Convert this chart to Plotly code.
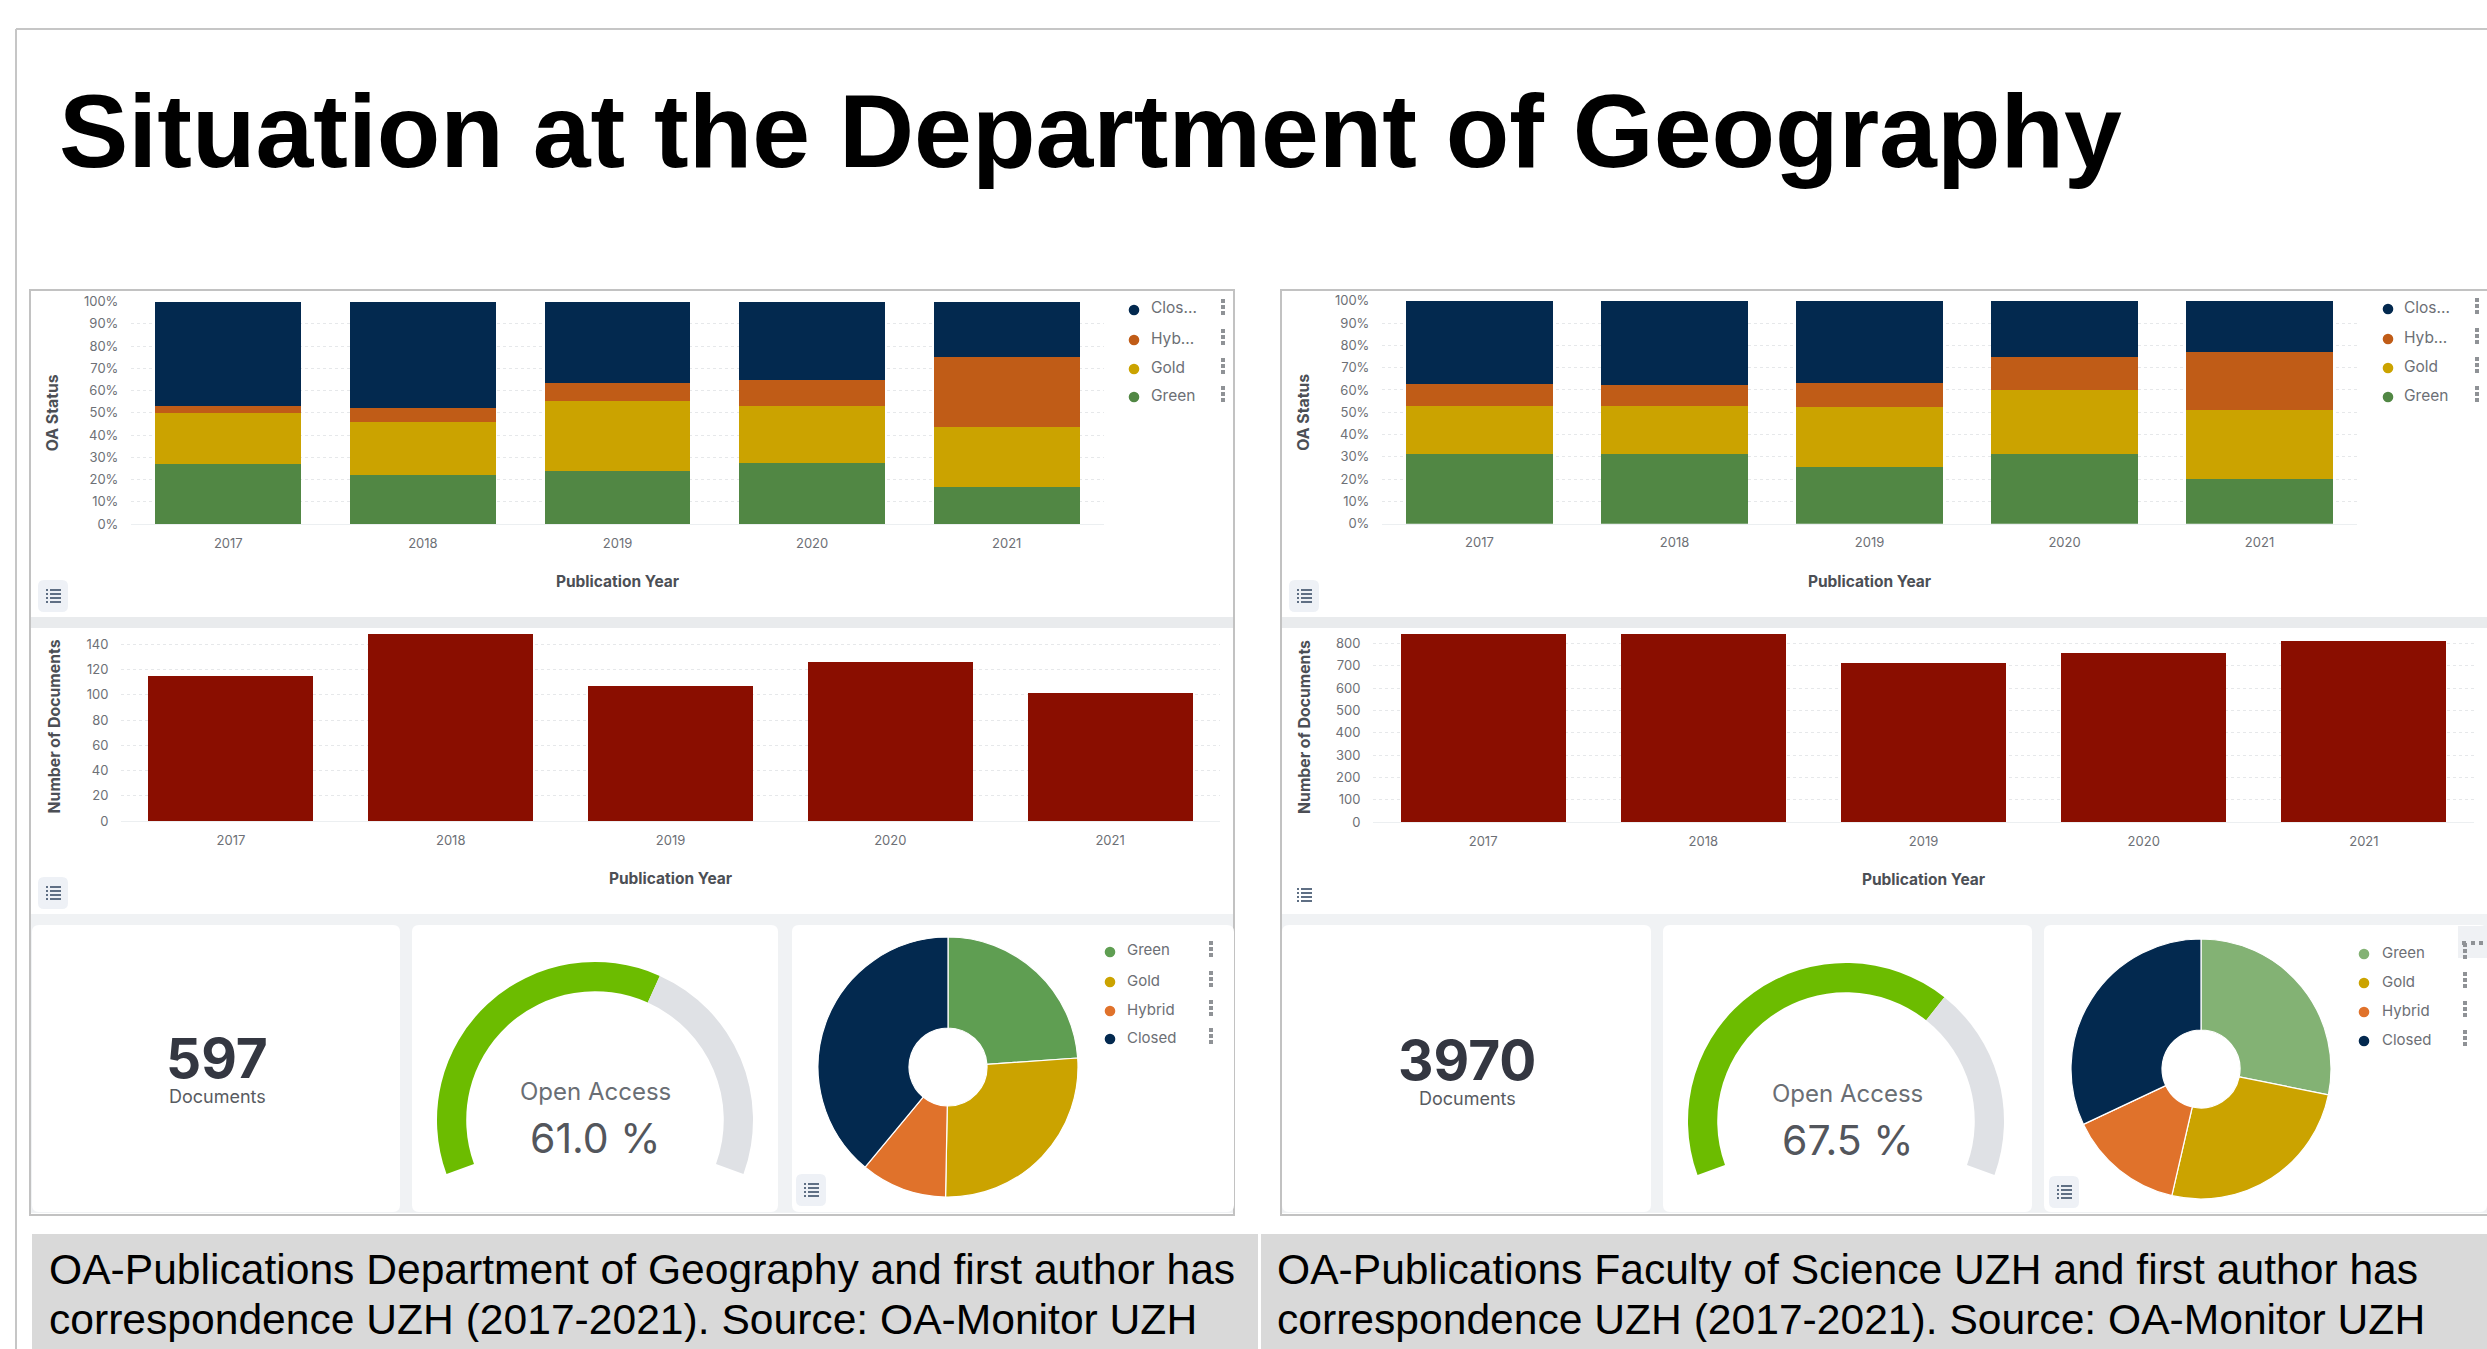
import plotly.graph_objects as go

W, H = 2487, 1349

# ---------- data ----------
years = ["2017", "2018", "2019", "2020", "2021"]
status_names = ["Green", "Gold", "Hybrid", "Closed"]

geo_green = [26.8, 22.1, 24.0, 27.4, 16.6]
geo_gold = [22.9, 23.8, 31.2, 25.7, 26.9]
geo_hybrid = [3.4, 6.1, 8.3, 11.7, 31.5]
geo_closed = [46.9, 48.0, 36.5, 35.2, 25.0]
geo_docs = [115, 148, 107, 126, 101]
geo_pie = [23.9, 26.4, 10.7, 39.0]
geo_total = "597"
geo_oa = 61.0

sci_green = [31.3, 31.5, 25.5, 31.5, 20.0]
sci_gold = [21.3, 21.3, 27.0, 28.5, 30.8]
sci_hybrid = [10.0, 9.3, 10.7, 14.9, 26.2]
sci_closed = [37.4, 37.9, 36.8, 25.1, 23.0]
sci_docs = [841, 844, 714, 760, 811]
sci_pie = [28.2, 25.4, 14.4, 32.0]
sci_total = "3970"
sci_oa = 67.5

title_text = "Situation at the Department of Geography"
caption_geo = ["OA-Publications Department of Geography and first author has",
               "correspondence UZH (2017-2021). Source: OA-Monitor UZH"]
caption_sci = ["OA-Publications Faculty of Science UZH and first author has",
               "correspondence UZH (2017-2021). Source: OA-Monitor UZH"]
legend_short = ["Clos...", "Hyb...", "Gold", "Green"]
legend_long = ["Green", "Gold", "Hybrid", "Closed"]

# ---------- styles ----------
C_GREEN, C_GOLD, C_HYB, C_CLOSED = "#518744", "#cba300", "#c05c17", "#03294f"
C_RED = "#8a0e00"
P_GREEN_GEO, P_GREEN_SCI, P_HYB = "#5f9e52", "#83b274", "#e0722b"
TICK = "#6d7076"
FONT = "Inter"
ARIAL = "Liberation Sans"
GAUGE_SWEEP = 220


def px(x):
    return x / W


def py(y):
    return 1 - y / H


fig = go.Figure()
shapes, annots = [], []


def rect(x0, y0, x1, y1, fill, line=None, lw=0):
    shapes.append(dict(type="rect", xref="paper", yref="paper", layer="below",
                       x0=px(x0), x1=px(x1), y0=py(y0), y1=py(y1), fillcolor=fill,
                       line=dict(color=line or fill, width=lw)))


def rrect(x0, y0, x1, y1, fill, r=7):
    X0, X1, Y0, Y1 = px(x0), px(x1), py(y0), py(y1)
    rx, ry = r / W, r / H
    path = (f"M {X0+rx},{Y0} L {X1-rx},{Y0} Q {X1},{Y0} {X1},{Y0-ry} L {X1},{Y1+ry} "
            f"Q {X1},{Y1} {X1-rx},{Y1} L {X0+rx},{Y1} Q {X0},{Y1} {X0},{Y1+ry} "
            f"L {X0},{Y0-ry} Q {X0},{Y0} {X0+rx},{Y0} Z")
    shapes.append(dict(type="path", xref="paper", yref="paper", layer="below",
                       path=path, fillcolor=fill, line=dict(width=0)))


def text(x, y, s, size, color, family=FONT, bold=False, anchor="center", height=None):
    a = dict(xref="paper", yref="paper", x=px(x), y=py(y), text=f"<b>{s}</b>" if bold else s,
             showarrow=False, xanchor=anchor, yanchor="middle",
             font=dict(family=family, size=size, color=color))
    if height:
        a["height"] = height
    annots.append(a)


def circle(x, y, r, color):
    shapes.append(dict(type="circle", xref="paper", yref="paper", layer="above",
                       x0=px(x - r), x1=px(x + r), y0=py(y + r), y1=py(y - r),
                       fillcolor=color, line=dict(width=0)))


def list_icon(cx, cy, bg=True):
    if bg:
        rrect(cx - 15, cy - 16, cx + 15, cy + 16, "#eef1f6", 6)
    for off in (-6, -2, 2, 6):
        rect(cx - 7, cy + off - 1, cx - 5, cy + off + 1, "#5f6f84")
        rect(cx - 3, cy + off - 1, cx + 8, cy + off + 1, "#5f6f84")


def legend(dot_x, text_x, icon_x, ys, labels, colors, size):
    for y, lab, col in zip(ys, labels, colors):
        circle(dot_x, y, 5.3, col)
        text(text_x, y - 2, lab, size, "#6c6f75", anchor="left")
        for off in (-6, 0, 6):
            rect(icon_x - 2, y - 5 + off, icon_x + 2, y - 1 + off, "#8f9296")


# ---------- background ----------
shapes.append(dict(type="line", xref="paper", yref="paper", layer="below",
                   x0=px(16), x1=px(16), y0=py(29), y1=0, line=dict(color="#c6c6c6", width=2)))
shapes.append(dict(type="line", xref="paper", yref="paper", layer="below",
                   x0=px(16), x1=1, y0=py(29), y1=py(29), line=dict(color="#c6c6c6", width=2)))

for (left, right, cards) in [
    (30, 1234, [(32, 400), (412, 778), (792, 1234)]),
    (1281, 2488, [(1282, 1651), (1663, 2032), (2044, 2487)]),
]:
    rect(left, 290, right, 1215, "#ffffff", "#c2c2c2", 2)
    rect(left + 1, 617, right - 1, 628, "#e9ebed")
    rect(left + 1, 914, right - 1, 1213, "#f0f2f4")
    for a, b in cards:
        rrect(a, 925, b, 1212, "#ffffff")

rect(32, 1234, 1258, 1349, "#d9d9d9")
rect(1261, 1234, 2487, 1349, "#d9d9d9")

for cx, cy, bg in [(53, 596, True), (53, 893, True), (811, 1190, True),
                   (1304, 596, True), (1304, 895, False), (2064, 1192, True)]:
    list_icon(cx, cy, bg)

# settings glyph at the corner of the last legend
rect(2458, 926, 2487, 958, "#eff1f4")
for gx in (2464, 2473, 2481):
    rect(gx - 2, 941, gx + 2, 945, "#8f9296")

# ---------- text ----------
text(56.5, 131, title_text, 104, "#000000", ARIAL, True, "left")
text(47, 1269, caption_geo[0], 42.6, "#000000", ARIAL, anchor="left", height=46)
text(47, 1319, caption_geo[1], 42.6, "#000000", ARIAL, anchor="left", height=46)
text(1275, 1269, caption_sci[0], 42.6, "#000000", ARIAL, anchor="left", height=46)
text(1275, 1319, caption_sci[1], 42.6, "#000000", ARIAL, anchor="left", height=46)

text(217, 1058, geo_total, 55, "#343741", bold=True, height=42)
text(217, 1096, "Documents", 18, "#585b61")
text(1467, 1060, sci_total, 55, "#343741", bold=True, height=42)
text(1467, 1098, "Documents", 18, "#585b61")
text(595.5, 1091, "Open Access", 24, "#6a6e74")
text(595, 1138, f"{geo_oa:.1f} %", 41, "#53565c")
text(1848, 1093, "Open Access", 24, "#6a6e74")
text(1847, 1140, f"{sci_oa:.1f} %", 41, "#53565c")

stack_cols = [C_CLOSED, C_HYB, C_GOLD, C_GREEN]
pie_geo_cols = [P_GREEN_GEO, C_GOLD, P_HYB, C_CLOSED]
pie_sci_cols = [P_GREEN_SCI, C_GOLD, P_HYB, C_CLOSED]
legend(1134, 1149, 1223, [310, 340, 369, 397], legend_short, stack_cols, 15.5)
legend(2388, 2402, 2477, [309, 339, 368, 397], legend_short, stack_cols, 15.5)
legend(1110, 1125, 1211, [952, 982, 1011, 1039], legend_long, pie_geo_cols, 15)
legend(2364, 2380, 2465, [954, 983, 1012, 1041], legend_long, pie_sci_cols, 15)

# ---------- cartesian charts ----------
layout_axes = {}


def axes(idx, x0, x1, y_top, y_bottom, ymax, dtick, suffix, ytitle):
    kx = "xaxis" if idx == 1 else f"xaxis{idx}"
    ky = "yaxis" if idx == 1 else f"yaxis{idx}"
    layout_axes[kx] = dict(
        domain=[px(x0), px(x1)], anchor=f"y{idx}" if idx > 1 else "y", type="category",
        showgrid=False, zeroline=False, showline=True, linecolor="#eceff1", linewidth=1,
        ticks="outside", ticklen=7, tickcolor="rgba(0,0,0,0)",
        tickfont=dict(family=FONT, size=13, color=TICK),
        title=dict(text="<b>Publication Year</b>", standoff=26,
                   font=dict(family=FONT, size=15.5, color="#4c4f55")))
    layout_axes[ky] = dict(
        domain=[py(y_bottom), py(y_top)], anchor=f"x{idx}" if idx > 1 else "x",
        range=[0, ymax], dtick=dtick, ticksuffix=suffix,
        showgrid=True, gridcolor="#e6e8ea", griddash="dot", gridwidth=1, zeroline=False, showline=False,
        ticks="outside", ticklen=9, tickcolor="rgba(0,0,0,0)",
        tickfont=dict(family=FONT, size=13, color=TICK),
        title=dict(text=f"<b>{ytitle}</b>", standoff=21,
                   font=dict(family=FONT, size=15.8, color="#4c4f55")))


def stacked(idx, series):
    suffix = "" if idx == 1 else str(idx)
    for name, vals, col in series:
        fig.add_trace(go.Bar(x=years, y=vals, name=name, marker=dict(color=col, line=dict(width=0)),
                             xaxis=f"x{suffix}", yaxis=f"y{suffix}", showlegend=False))


axes(1, 131, 1104, 301.6, 524, 100, 10, "%", "OA Status")
stacked(1, [("Green", geo_green, C_GREEN), ("Gold", geo_gold, C_GOLD),
            ("Hybrid", geo_hybrid, C_HYB), ("Closed", geo_closed, C_CLOSED)])
axes(2, 121, 1220, 632, 821, 149.7, 20, "", "Number of Documents")
stacked(2, [("Documents", geo_docs, C_RED)])
axes(3, 1382, 2357, 300.7, 523.8, 100, 10, "%", "OA Status")
stacked(3, [("Green", sci_green, C_GREEN), ("Gold", sci_gold, C_GOLD),
            ("Hybrid", sci_hybrid, C_HYB), ("Closed", sci_closed, C_CLOSED)])
axes(4, 1373, 2474, 632, 822, 852, 100, "", "Number of Documents")
stacked(4, [("Documents", sci_docs, C_RED)])


# ---------- donuts and gauges ----------
def donut(cx, cy, r, vals, cols, hole):
    fig.add_trace(go.Pie(labels=status_names, values=vals, hole=hole, sort=False, direction="clockwise",
                         rotation=0, textinfo="none", showlegend=False,
                         marker=dict(colors=cols, line=dict(color="#ffffff", width=1.2)),
                         domain=dict(x=[px(cx - r), px(cx + r)], y=[py(cy + r), py(cy - r)])))


def gauge(cx, cy, r, pct):
    a = pct * GAUGE_SWEEP / 100
    b = GAUGE_SWEEP - a
    fig.add_trace(go.Pie(labels=["Open", "Rest", "Gap"], values=[a, b, 360 - GAUGE_SWEEP],
                         hole=0.815, sort=False, direction="clockwise", rotation=-GAUGE_SWEEP / 2,
                         textinfo="none", showlegend=False, hoverinfo="skip",
                         marker=dict(colors=["#6cbc00", "#dfe1e5", "rgba(0,0,0,0)"], line=dict(width=0)),
                         domain=dict(x=[px(cx - r), px(cx + r)], y=[py(cy + r), py(cy - r)])))


donut(948, 1067, 130, geo_pie, pie_geo_cols, 0.3)
donut(2201, 1069, 130, sci_pie, pie_sci_cols, 0.3)
gauge(595, 1120, 158, geo_oa)
gauge(1846, 1121, 158, sci_oa)

fig.update_layout(width=W, height=H, margin=dict(l=0, r=0, t=0, b=0, autoexpand=False), autosize=False,
                  paper_bgcolor="#ffffff", plot_bgcolor="rgba(0,0,0,0)",
                  barmode="stack", bargap=0.25, showlegend=False,
                  shapes=shapes, annotations=annots, **layout_axes)

fig.write_html("out.html", config={"displayModeBar": False},
               post_script="document.body.style.margin='0';document.documentElement.style.overflow='hidden';")
